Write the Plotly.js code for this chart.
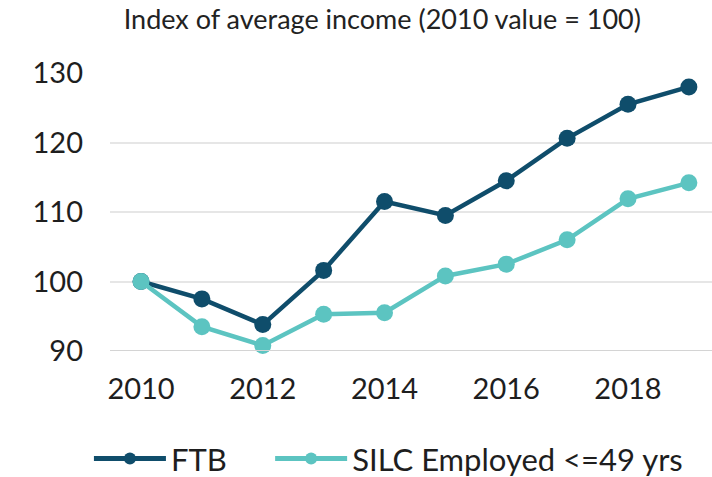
<!DOCTYPE html>
<html>
<head>
<meta charset="utf-8">
<script src="https://cdn.plot.ly/plotly-3.0.1.min.js"></script>
<style>html,body{margin:0;padding:0;background:#fff;}#chart{width:712px;height:477px;}</style>
</head>
<body>
<div id="chart"></div>
<script>
const years = [2010, 2011, 2012, 2013, 2014, 2015, 2016, 2017, 2018, 2019];
const ftb = [100, 97.5, 93.8, 101.6, 111.5, 109.5, 114.5, 120.6, 125.5, 128.0];
const silc = [100, 93.5, 90.8, 95.3, 95.5, 100.8, 102.5, 106.0, 111.9, 114.2];
const xTicks = [2010, 2012, 2014, 2016, 2018];
const yTicks = [90, 100, 110, 120, 130];

const traces = [
  {x: years, y: ftb, name: 'FTB', type: 'scatter', mode: 'lines+markers', legend: 'legend',
   line: {color: '#0f4d6b', width: 4.5}, marker: {color: '#0f4d6b', size: 17}, cliponaxis: false},
  {x: years, y: silc, name: 'SILC Employed <=49 yrs', type: 'scatter', mode: 'lines+markers', legend: 'legend2',
   line: {color: '#5cc4c1', width: 4.5}, marker: {color: '#5cc4c1', size: 17}, cliponaxis: false}
];

const legendCommon = {orientation: 'h', y: -0.388, yanchor: 'middle', xanchor: 'left',
  font: {size: 31, color: '#1e1e1e'}, itemwidth: 72, itemsizing: 'constant', bgcolor: 'rgba(0,0,0,0)'};

const layout = {
  width: 712, height: 477,
  margin: {l: 110, r: 0, t: 73, b: 126, autoexpand: false},
  paper_bgcolor: '#fff', plot_bgcolor: '#fff',
  font: {family: 'Lato, "Open Sans", sans-serif', color: '#1e1e1e'},
  title: {text: 'Index of average income (2010 value = 100)', font: {size: 27, color: '#222'},
          x: 0.537, xanchor: 'center', xref: 'container', y: 0.958, yanchor: 'middle', yref: 'container'},
  xaxis: {range: [2009.49, 2019.38], tickvals: xTicks, ticktext: xTicks.map(String),
          showgrid: false, zeroline: false, showline: false, ticks: '',
          tickfont: {size: 29, color: '#1e1e1e'}, ticklabelstandoff: 18},
  yaxis: {range: [90, 130], tickvals: yTicks, showgrid: true, gridcolor: '#e6e6e6', gridwidth: 2,
          zeroline: false, showline: false, ticks: '',
          tickfont: {size: 29, color: '#1e1e1e'}, ticklabelstandoff: 26},
  shapes: [{type: 'line', xref: 'paper', yref: 'y', x0: 0, x1: 1, y0: 90, y1: 90,
            line: {color: '#d4d4d4', width: 2}}],
  showlegend: true,
  legend: Object.assign({}, legendCommon, {x: -0.035}),
  legend2: Object.assign({}, legendCommon, {x: 0.266})
};

Plotly.newPlot('chart', traces, layout, {displayModeBar: false, staticPlot: true});
</script>
</body>
</html>
